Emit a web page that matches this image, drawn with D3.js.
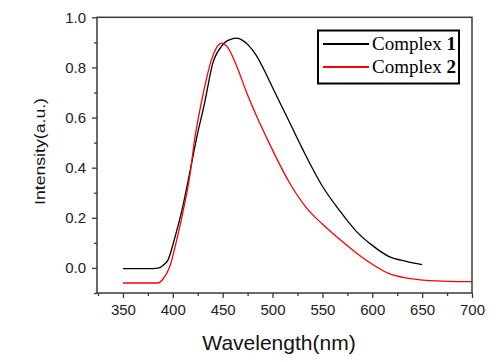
<!DOCTYPE html>
<html>
<head>
<meta charset="utf-8">
<script src="https://cdn.jsdelivr.net/npm/d3@7"></script>
<style>
  body { margin: 0; background: white; }
  svg { display: block; }
</style>
</head>
<body>
<svg id="chart"></svg>
<script>
var WIDTH = 500,
    HEIGHT = 362,
    PLOT = {left: 97, right: 472, top: 17.3, bottom: 293},
    AXIS_COLOR = "#3a3a3a",
    TICK_FONT = "'Liberation Sans', Arial, sans-serif",
    LEGEND_FONT = "'Liberation Serif', 'Times New Roman', serif";

// emission spectra
var wl1 = [350, 380, 386, 390, 395, 402, 410, 417, 424, 432, 440, 449, 454, 458, 464, 470, 476, 484, 494, 500, 514, 530, 550, 567, 584, 600, 617, 634, 650];
var int1 = [-0.003, -0.003, 0.0, 0.01, 0.03, 0.12, 0.245, 0.38, 0.52, 0.66, 0.815, 0.885, 0.905, 0.912, 0.917, 0.908, 0.888, 0.846, 0.77, 0.72, 0.606, 0.475, 0.326, 0.23, 0.146, 0.09, 0.045, 0.026, 0.013];

var wl2 = [350, 385, 390, 397, 404, 410, 417, 422, 430, 439, 445, 449, 455, 464, 474, 484, 494, 500, 517, 534, 550, 567, 584, 600, 617, 634, 654, 677, 700];
var int2 = [-0.06, -0.06, -0.045, 0.006, 0.113, 0.22, 0.366, 0.515, 0.686, 0.833, 0.886, 0.897, 0.88, 0.806, 0.7, 0.606, 0.52, 0.47, 0.34, 0.24, 0.175, 0.115, 0.06, 0.015, -0.023, -0.04, -0.05, -0.054, -0.055];

var seriesNames = ["Complex ", "Complex "];
var seriesNums = ["1", "2"];
var seriesColors = ["#000000", "#ff0000"];

var xMajor = [350, 400, 450, 500, 550, 600, 650, 700];
var xMinor = [325, 375, 425, 475, 525, 575, 625, 675];
var yMajor = [0.0, 0.2, 0.4, 0.6, 0.8, 1.0];
var yMinor = [-0.1, 0.1, 0.3, 0.5, 0.7, 0.9];

var x = d3.scaleLinear()
    .domain([324, 700])
    .range([PLOT.left, PLOT.right]);
var y = d3.scaleLinear()
    .domain([-0.1, 1.0])
    .range([PLOT.bottom, PLOT.top]);

var svg = d3.select("#chart")
    .attr("width", WIDTH)
    .attr("height", HEIGHT)
    .style("background", "white");

// frame
svg.append("rect")
    .attr("x", PLOT.left)
    .attr("y", PLOT.top)
    .attr("width", PLOT.right - PLOT.left)
    .attr("height", PLOT.bottom - PLOT.top)
    .style("fill", "none")
    .style("stroke", AXIS_COLOR)
    .style("stroke-width", 1.5);

// x axis
svg.append("g")
    .attr("transform", "translate(0," + PLOT.bottom + ")")
    .call(d3.axisBottom(x).tickValues(xMajor).tickSize(5).tickPadding(6).tickFormat(d3.format("d")));
svg.append("g")
    .attr("transform", "translate(0," + PLOT.bottom + ")")
    .call(d3.axisBottom(x).tickValues(xMinor).tickSize(3).tickFormat(""));

// y axis
svg.append("g")
    .attr("transform", "translate(" + PLOT.left + ",0)")
    .call(d3.axisLeft(y).tickValues(yMajor).tickSize(5).tickPadding(6).tickFormat(d3.format(".1f")));
svg.append("g")
    .attr("transform", "translate(" + PLOT.left + ",0)")
    .call(d3.axisLeft(y).tickValues(yMinor).tickSize(3).tickFormat(""));

svg.selectAll(".domain").remove();
svg.selectAll(".tick line")
    .style("stroke", AXIS_COLOR)
    .style("stroke-width", 1.3);
svg.selectAll(".tick text")
    .style("font-family", TICK_FONT)
    .style("font-size", "15px")
    .style("fill", "#222");

// axis titles
svg.append("text")
    .attr("x", 279)
    .attr("y", 350)
    .style("font-family", TICK_FONT)
    .style("font-size", "21px")
    .style("fill", "#111")
    .style("text-anchor", "middle")
    .text("Wavelength(nm)");
svg.append("text")
    .attr("transform", "translate(45,151.5) rotate(-90)")
    .attr("textLength", 107)
    .attr("lengthAdjust", "spacingAndGlyphs")
    .style("font-family", TICK_FONT)
    .style("font-size", "15px")
    .style("fill", "#111")
    .style("text-anchor", "middle")
    .text("Intensity(a.u.)");

// curves
var line = d3.line()
    .x(function(d) { return x(d[0]); })
    .y(function(d) { return y(d[1]); })
    .curve(d3.curveMonotoneX);

var series = [d3.zip(wl1, int1), d3.zip(wl2, int2)];
series.forEach(function(s, i) {
    svg.append("path")
        .datum(s)
        .attr("d", line)
        .style("fill", "none")
        .style("stroke", seriesColors[i])
        .style("stroke-width", 1.3);
});

// legend
var legend = svg.append("g").attr("id", "legend");
legend.append("rect")
    .attr("x", 318)
    .attr("y", 30.5)
    .attr("width", 141)
    .attr("height", 53)
    .style("fill", "white")
    .style("stroke", "#000")
    .style("stroke-width", 2);
var rowY = [44, 67];
for (var i = 0; i < seriesNames.length; i++) {
    legend.append("line")
        .attr("x1", 323)
        .attr("x2", 369)
        .attr("y1", rowY[i])
        .attr("y2", rowY[i])
        .style("stroke", seriesColors[i])
        .style("stroke-width", 2);
    var t = legend.append("text")
        .attr("x", 372)
        .attr("y", rowY[i] + 6)
        .style("font-family", LEGEND_FONT)
        .style("font-size", "19px")
        .style("fill", "#000");
    t.append("tspan").text(seriesNames[i]);
    t.append("tspan").style("font-weight", "bold").text(seriesNums[i]);
}
</script>
</body>
</html>
